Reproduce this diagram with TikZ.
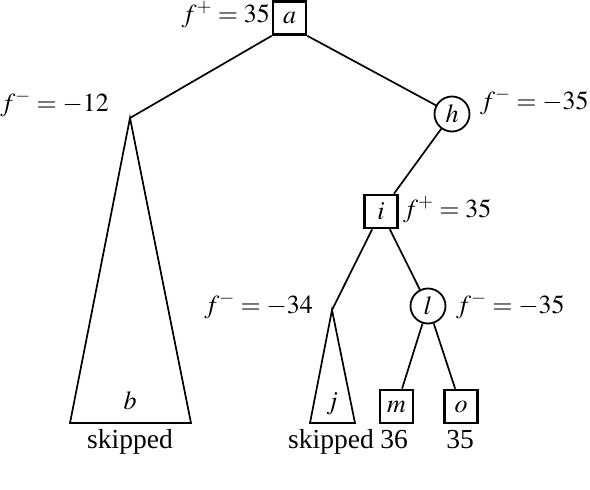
\documentclass[tikz,border=0pt]{standalone}
\usepackage{mathptmx}
\usepackage[no-math]{fontspec}
\setmainfont{Liberation Serif}
\tikzset{
  maxbox/.style={draw, line width=2.6pt, rectangle, inner sep=0pt, minimum width=33pt, minimum height=33pt},
  minnode/.style={draw, line width=1.8pt, circle, inner sep=0pt, minimum size=35pt},
  edge/.style={line width=1.7pt},
  lbl/.style={anchor=base, inner sep=0pt},
  txt/.style={lbl, font=\fontsize{27.5}{32}\selectfont},
}
\begin{document}
\begin{tikzpicture}[x=1pt,y=-1pt,font=\fontsize{26}{30}\selectfont]
\useasboundingbox (0,0) rectangle (590,490);
% nodes
\node[maxbox] (a) at (289.5,18) {$a$};
\node[minnode] (h) at (452,114) {$h$};
\node[maxbox] (i) at (381,211.5) {$i$};
\node[minnode] (l) at (428,306) {$l$};
\node[maxbox] (m) at (396.5,406.5) {$m$};
\node[maxbox] (o) at (461,406.5) {$o$};
\coordinate (bt) at (130,118);
\coordinate (bl) at (70,423);
\coordinate (br) at (191,423);
\coordinate (jt) at (332,310);
\coordinate (jl) at (310,423);
\coordinate (jr) at (355,423);
% edges
\draw[edge] (a.south west) -- (bt);
\draw[edge] (a.south east) -- (h);
\draw[edge] (h) -- (i);
\draw[edge] (i) -- (jt);
\draw[edge] (i) -- (l);
\draw[edge] (l) -- (m);
\draw[edge] (l) -- (o);
% subtrees
\draw[edge, line join=miter] (bt) -- (bl) -- (br) -- cycle;
\draw[edge, line join=miter] (jt) -- (jl) -- (jr) -- cycle;
% labels
\node[lbl, anchor=base east] (la) at (270,22) {$f^{+} = 35$};
\node[lbl, anchor=base east] (lb) at (109,111) {$f^{-} = -12$};
\node[lbl, anchor=base west] (lh) at (480,109) {$f^{-} = -35$};
\node[lbl, anchor=base west] (li) at (403,217) {$f^{+} = 35$};
\node[lbl, anchor=base east] (lj) at (313,313) {$f^{-} = -34$};
\node[lbl, anchor=base west] (ll) at (456,313) {$f^{-} = -35$};
\node[lbl] (nb) at (130,409) {$b$};
\node[lbl] (nj) at (332,409) {$j$};
\node[txt] (sb) at (130,448) {skipped};
\node[txt] (sj) at (331,448) {skipped};
\node[txt] (vm) at (394,448) {36};
\node[txt] (vo) at (460,448) {35};
\end{tikzpicture}
\end{document}
